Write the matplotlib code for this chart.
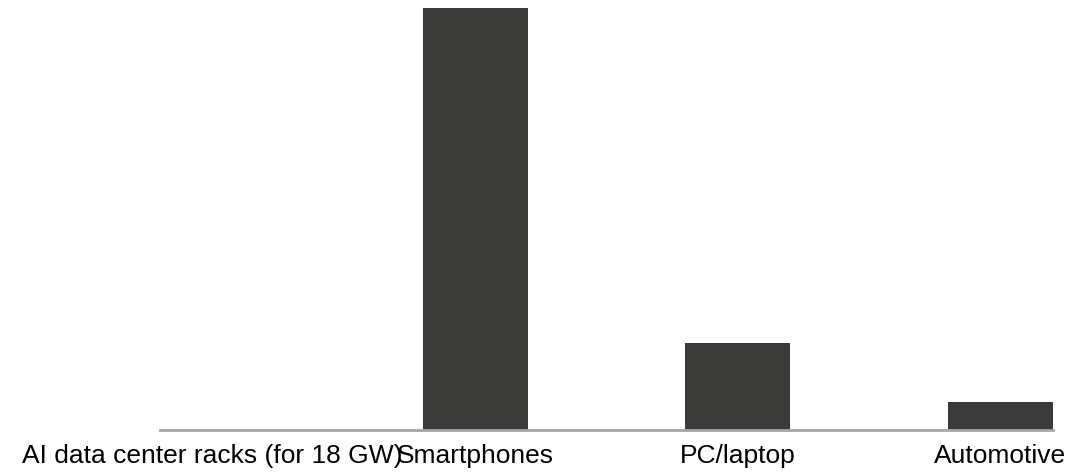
import numpy as np
import matplotlib
matplotlib.use("Agg")
import matplotlib.pyplot as plt

categories = ["AI data center racks (for 18 GW)", "Smartphones", "PC/laptop", "Automotive"]
values = [0.14, 1220, 251, 81]

BAR_COLOR = "#3a3b38"
AXIS_COLOR = "#a6a6a6"

plt.rcParams["font.family"] = ["Liberation Sans", "DejaVu Sans"]

fig = plt.figure(figsize=(10.78, 4.73), dpi=100)
ax = fig.add_axes([160 / 1078, 43 / 473, 893 / 1078, 422 / 473])

x = np.arange(len(categories))
ax.bar(x, values, width=0.4, color=BAR_COLOR)

ax.set_xlim(-0.2, len(categories) - 1 + 0.2)
ax.set_ylim(0, max(values))
ax.set_xticks(x)
ax.set_xticklabels(categories, fontsize=19)
ax.tick_params(axis="x", length=0, pad=10, colors="black")
ax.set_yticks([])

for s in ["top", "right", "left"]:
    ax.spines[s].set_visible(False)
ax.spines["bottom"].set_color(AXIS_COLOR)
ax.spines["bottom"].set_linewidth(2)

fig.savefig("out.png", dpi=100)
